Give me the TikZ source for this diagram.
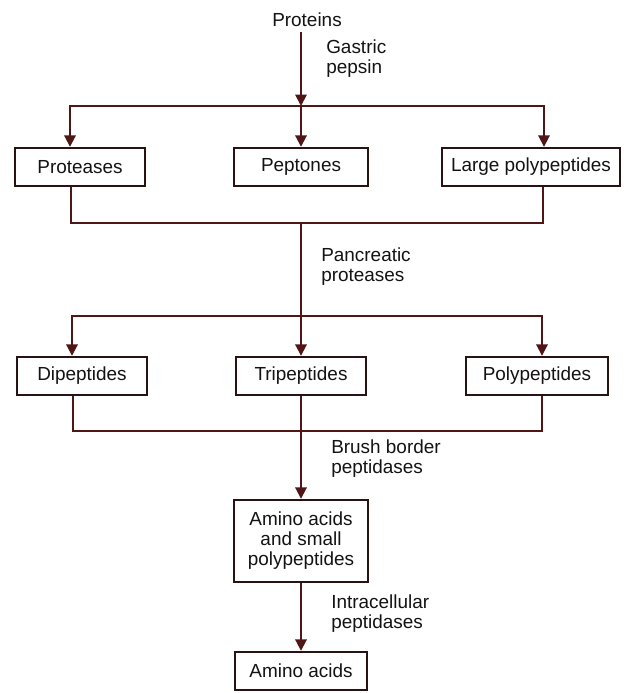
\documentclass[tikz,border=0pt]{standalone}
\usepackage{fontspec}
\setmainfont{Liberation Sans}
\usepackage{tikz}
\definecolor{wire}{RGB}{80, 22, 22}
\definecolor{edge}{RGB}{40, 18, 18}
\definecolor{ink}{RGB}{20, 18, 18}
\usetikzlibrary{arrows.meta, positioning, calc}

\begin{document}
\begin{tikzpicture}[
    x=0.75pt, y=-0.75pt,
    font=\fontsize{14.2}{15}\selectfont, text=ink,
    stage/.style={draw=edge, line width=1.3pt, fill=white,
                  minimum width=#1, minimum height=29pt, inner sep=2pt, align=center},
    enzyme/.style={anchor=north west, inner sep=0pt, align=left},
    flow/.style={draw=wire, line width=1.4pt},
    feed/.style={flow, -{Triangle[length=8.5pt, width=8.5pt]}}
]
    \useasboundingbox (0,0) rectangle (624,693);

    \node (proteins) at (307,20) {Proteins};

    \node[stage=98pt] (proteases) at (80,167) {Proteases};
    \node[stage=100pt] (peptones) at (301,167) {Peptones};
    \node[stage=133.5pt] (large) at (531,167) {Large polypeptides};

    \node[stage=97.5pt] (dipeptides) at (82,376) {Dipeptides};
    \node[stage=98pt] (tripeptides) at (301,376) {Tripeptides};
    \node[stage=107pt] (polypeptides) at (537,376) {Polypeptides};

    \node[stage=100pt, minimum height=62pt] (mixture) at (301,541)
        {Amino acids\\and small\\polypeptides};
    \node[stage=99pt] (aminoacids) at (301,671) {Amino acids};

    % Forks and joins
    \coordinate (fork1) at (301,106);
    \coordinate (f1a) at (70,106);
    \coordinate (f1b) at (544,106);
    \coordinate (join1) at (301,223);
    \coordinate (j1a) at (71,223);
    \coordinate (j1b) at (543,223);
    \coordinate (fork2) at (301,316);
    \coordinate (f2a) at (72,316);
    \coordinate (f2b) at (542,316);
    \coordinate (join2) at (301,431);
    \coordinate (j2a) at (73,431);
    \coordinate (j2b) at (542,431);

    % Gastric stage
    \draw[feed] (proteins.south -| fork1) -- (fork1);
    \draw[feed] (fork1) -- (peptones.north);
    \draw[feed] (fork1) -| (f1a |- proteases.north);
    \draw[feed] (fork1) -| (f1b |- large.north);
    \draw[flow] (j1a |- proteases.south) -- (j1a) -- (j1b) -- (j1b |- large.south);

    % Pancreatic stage
    \draw[feed] (join1) -- (tripeptides.north);
    \draw[feed] (fork2) -| (f2a |- dipeptides.north);
    \draw[feed] (fork2) -| (f2b |- polypeptides.north);
    \draw[flow] (j2a |- dipeptides.south) -- (j2a) -- (j2b) -- (j2b |- polypeptides.south);

    % Brush border and cell
    \draw[feed] (tripeptides.south) -- (mixture.north);
    \draw[feed] (mixture.south) -- (aminoacids.north);

    % Enzyme labels
    \node[enzyme] (gastric) at (326,40) {Gastric\\pepsin};
    \node[enzyme] (pancreatic) at (321,248) {Pancreatic\\proteases};
    \node[enzyme] (brush) at (331,440) {Brush border\\peptidases};
    \node[enzyme] (intra) at (331,595) {Intracellular\\peptidases};
\end{tikzpicture}
\end{document}
